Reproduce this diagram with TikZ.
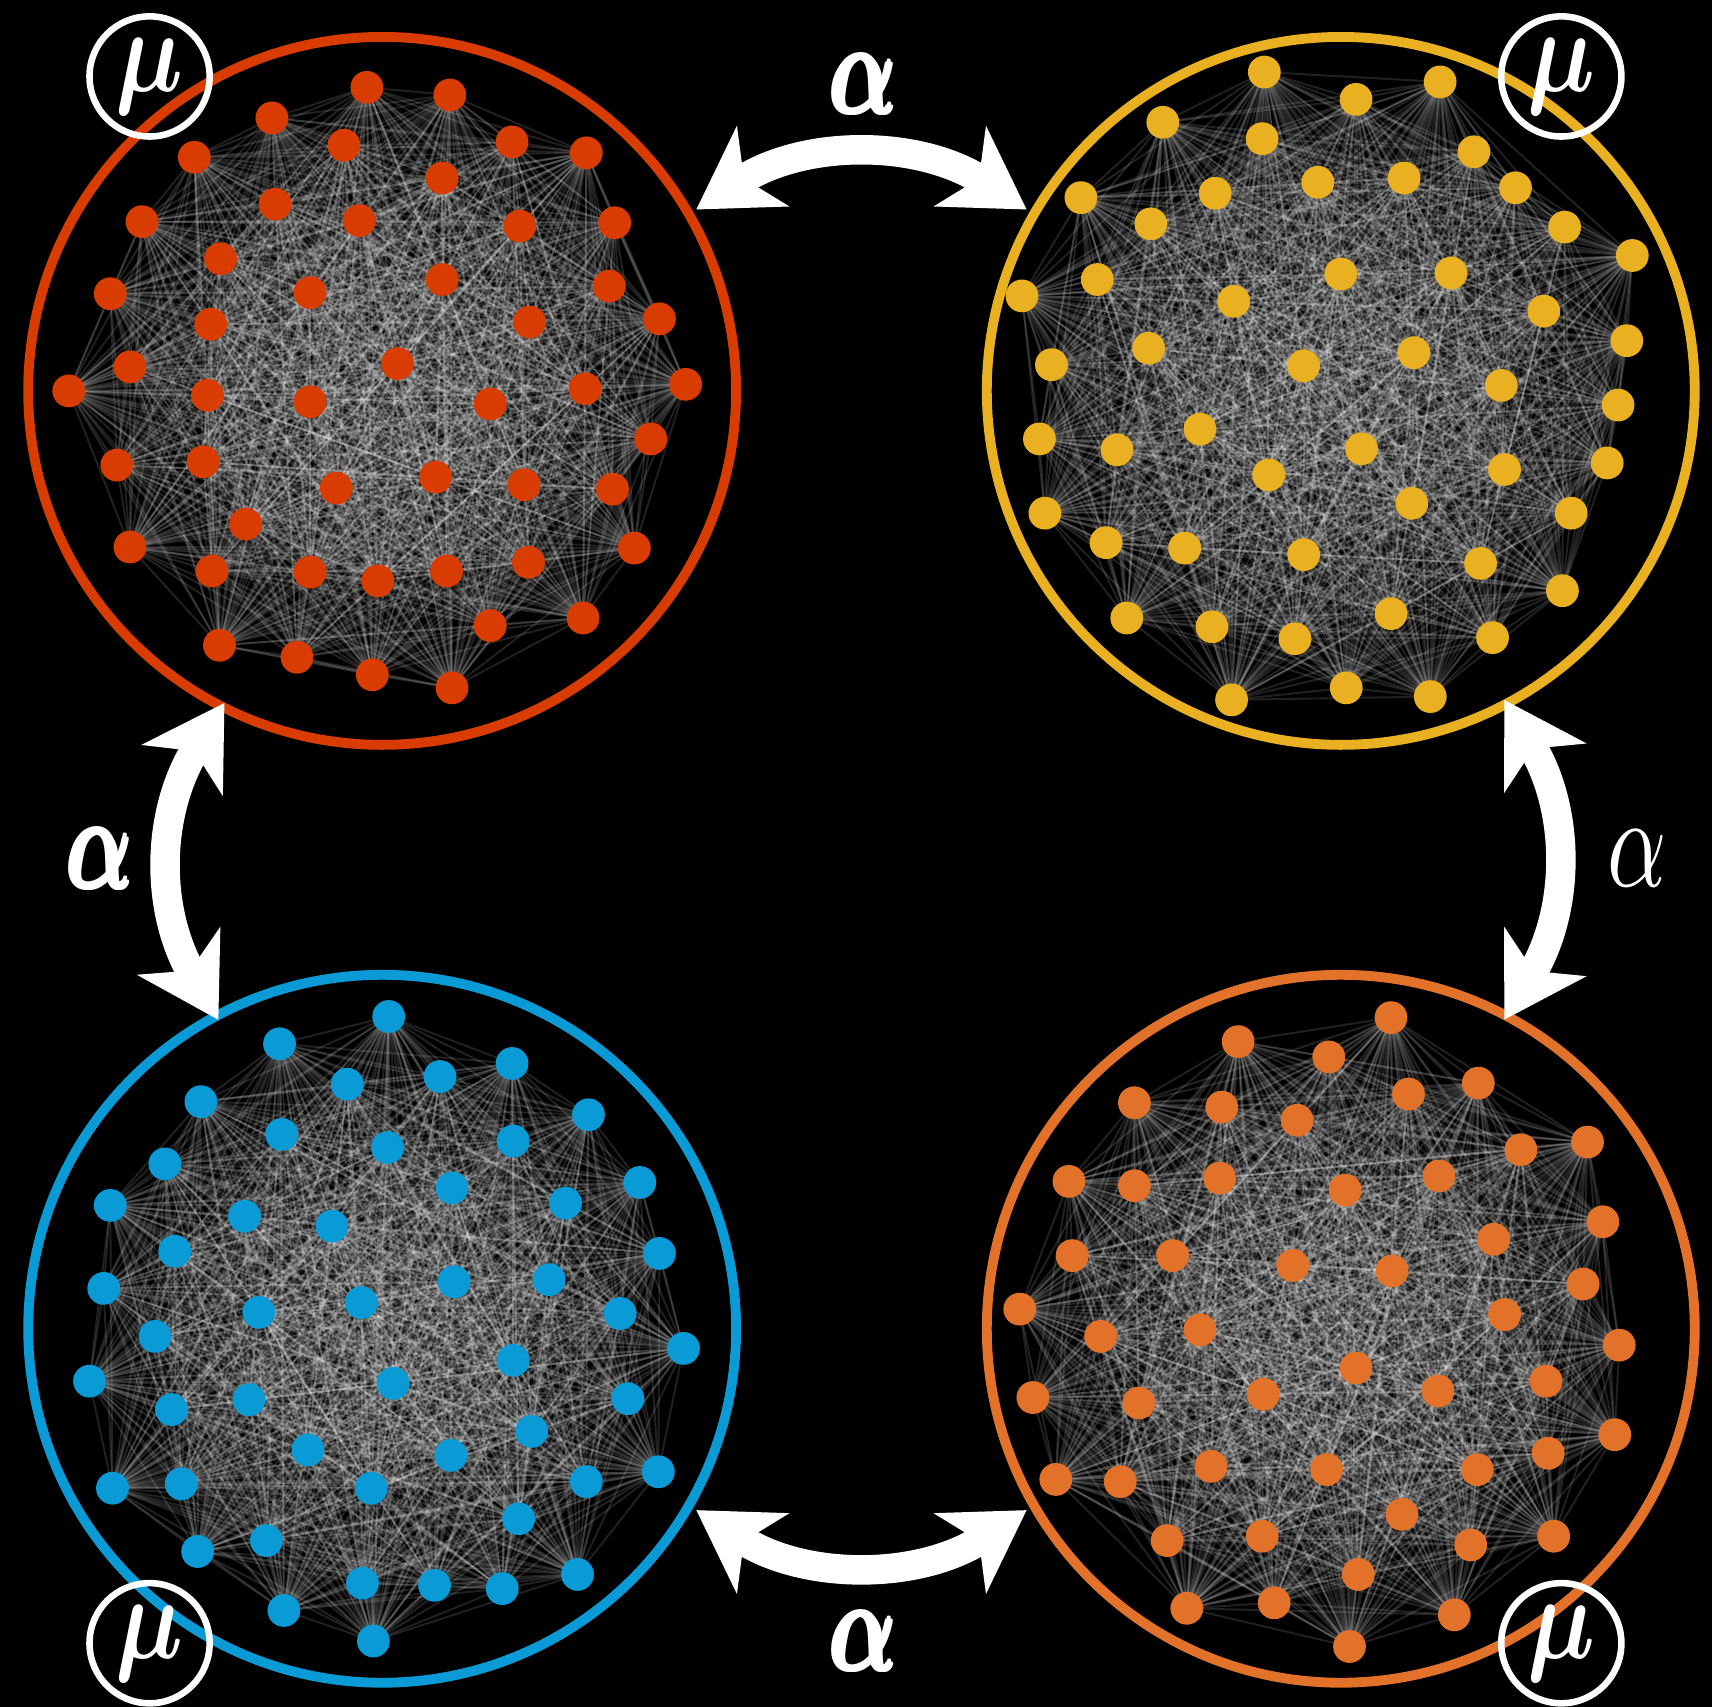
\documentclass[tikz,border=0pt]{standalone}
\usepackage{amsmath}
\usepackage{graphicx}
\usetikzlibrary{arrows.meta}
\definecolor{tlred}{RGB}{216,60,0}
\definecolor{tryellow}{RGB}{233,176,34}
\definecolor{blblue}{RGB}{10,155,215}
\definecolor{brorange}{RGB}{226,114,42}

\tikzset{
  netline/.style={white, opacity=0.13, line width=0.5pt},
  ring/.style={circle, draw=#1, line width=0.09cm, minimum size=6.48cm, inner sep=0pt, outer sep=0.08cm},
  mubadge/.style={circle, draw=white, line width=0.06cm, minimum size=1.1cm, inner sep=0pt, text=white},
  duo/.style={white, line width=0.27cm,
    arrows={Stealth[length=0.72cm,width=0.86cm,inset=0.2cm]-Stealth[length=0.72cm,width=0.86cm,inset=0.2cm]}},
}

% prefix, colour, list of dot positions
\newcommand{\network}[3]{%
  \foreach \px/\py [count=\k] in {#3}{\coordinate (#1\k) at (\px,\py); \xdef\nnodes{\k}}
  \foreach \i in {2,...,\nnodes}{\foreach \j in {1,...,\i}{\ifnum\j<\i\relax \draw[netline] (#1\i) -- (#1\j);\fi}}
  \foreach \i in {1,...,\nnodes}{\fill[#2] (#1\i) circle[radius=0.15cm];}
}

\begin{document}
\begin{tikzpicture}[x=0.01cm,y=-0.01cm]
\fill[black] (0,0) rectangle (1568,1563);
\useasboundingbox (0,0) rectangle (1568,1563);

%networks
\network{tl}{tlred}{336/80, 412/87, 249/108, 469/130, 537/140, 178/144, 315/133, 405/163, 252/187, 329/202, 130/203, 563/204, 476/207, 202/237, 101/269, 284/268, 405/256, 558/262, 193/297, 485/295, 604/292, 119/336, 364/333, 63/358, 190/362, 284/368, 536/356, 628/352, 449/370, 107/426, 186/423, 596/402, 308/447, 399/437, 480/444, 561/448, 225/480, 119/501, 581/502, 194/523, 284/524, 346/532, 409/523, 484/515, 449/573, 534/566, 201/591, 272/602, 341/618, 414/630}
\network{tr}{tryellow}{1158/66, 1242/91, 1319/75, 1065/112, 1156/127, 1350/139, 1207/167, 1286/163, 1388/172, 990/181, 1113/177, 1054/205, 1433/208, 1495/234, 1005/256, 1228/251, 1329/250, 936/271, 1130/276, 1414/285, 1490/312, 1052/319, 1194/335, 1295/323, 963/334, 1375/353, 1482/371, 1099/393, 952/402, 1023/412, 1247/411, 1162/435, 1378/430, 1472/424, 1293/461, 957/470, 1439/470, 1013/497, 1085/502, 1194/508, 1356/516, 1431/541, 1032/566, 1110/574, 1186/585, 1274/562, 1367/584, 1128/641, 1233/630, 1310/638}
\network{bl}{blblue}{356/931, 256/956, 469/974, 318/993, 403/986, 184/1009, 539/1021, 258/1039, 355/1051, 470/1045, 151/1066, 586/1083, 101/1104, 414/1088, 518/1102, 224/1114, 304/1123, 160/1146, 604/1148, 95/1180, 416/1174, 503/1172, 237/1202, 331/1193, 568/1203, 142/1224, 626/1235, 82/1265, 470/1246, 360/1267, 157/1291, 228/1282, 575/1281, 487/1311, 282/1328, 413/1333, 103/1363, 166/1359, 603/1348, 537/1357, 340/1363, 475/1391, 181/1421, 244/1411, 529/1442, 332/1450, 398/1452, 460/1455, 260/1475, 342/1503}
\network{br}{brorange}{1274/932, 1134/954, 1217/968, 1039/1010, 1119/1014, 1290/1002, 1354/992, 1188/1026, 1454/1046, 1393/1053, 1117/1079, 979/1082, 1039/1086, 1232/1090, 1318/1077, 1468/1119, 1368/1135, 982/1150, 1074/1150, 1184/1159, 1275/1164, 1450/1176, 934/1199, 1008/1224, 1099/1218, 1378/1204, 1483/1232, 1242/1253, 946/1280, 1043/1285, 1157/1277, 1317/1274, 1416/1265, 1479/1314, 1418/1331, 967/1355, 1026/1357, 1109/1343, 1215/1346, 1353/1346, 1284/1387, 1069/1411, 1156/1407, 1347/1415, 1423/1407, 1244/1442, 1087/1473, 1167/1468, 1332/1479, 1236/1508}

%rings
\node[ring=tlred] (tl) at (350,358) {};
\node[ring=tryellow] (tr) at (1228,358) {};
\node[ring=blblue] (bl) at (350,1217) {};
\node[ring=brorange] (br) at (1228,1217) {};

%badges
\node[mubadge] (mutl) at (137,70) {\scalebox{2.5}[3.1]{$\boldsymbol{\mu}$}};
\node[mubadge] (mutr) at (1430,70) {\scalebox{2.5}[3.1]{$\boldsymbol{\mu}$}};
\node[mubadge] (mubl) at (137,1505) {\scalebox{2.5}[3.1]{$\boldsymbol{\mu}$}};
\node[mubadge] (mubr) at (1430,1505) {\scalebox{2.5}[3.1]{$\boldsymbol{\mu}$}};

%exchange
\draw[duo] (tl.30) to[bend left=33] (tr.150);
\draw[duo, shorten <=-0.12cm, shorten >=-0.12cm] (tl.-117) to[bend right=31] (bl.118);
\draw[duo, shorten <=-0.12cm, shorten >=-0.12cm] (tr.-62) to[bend left=31] (br.62);
\draw[duo] (bl.-30) to[bend right=33] (br.-150);

\node[text=white] (atop) at (792,77) {\scalebox{2.3}[3.4]{$\pmb{\boldsymbol{\alpha}}$}};
\node[text=white] (aleft) at (93,786) {\scalebox{2.3}[3.4]{$\pmb{\boldsymbol{\alpha}}$}};
\node[text=white] (aright) at (1499,786) {\scalebox{2.4}[3.4]{$\alpha$}};
\node[text=white] (abot) at (792,1503) {\scalebox{2.3}[3.4]{$\pmb{\boldsymbol{\alpha}}$}};
\end{tikzpicture}
\end{document}
